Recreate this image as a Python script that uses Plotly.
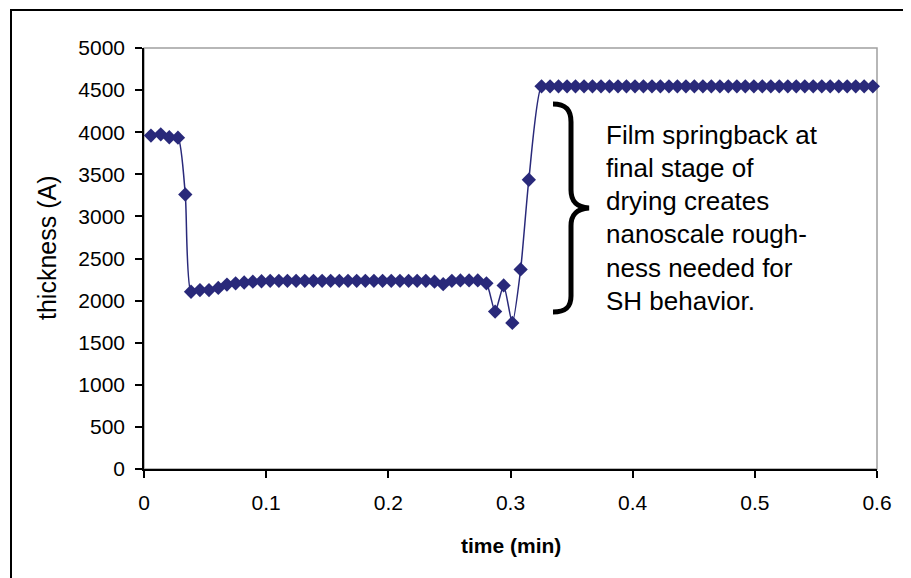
import plotly.graph_objects as go

time_min = [0.0057, 0.0137, 0.0207, 0.0278, 0.0338, 0.0385, 0.0458, 0.0532, 0.0608,
            0.0679, 0.0750, 0.0820, 0.0891, 0.0962, 0.1033, 0.1104, 0.1174, 0.1245, 0.1316,
            0.1387, 0.1458, 0.1528, 0.1599, 0.1670, 0.1741, 0.1812, 0.1882, 0.1953, 0.2024,
            0.2095, 0.2166, 0.2236, 0.2307, 0.2378, 0.2449, 0.2520, 0.2590, 0.2661, 0.2732,
            0.2803, 0.2874, 0.2944, 0.3015, 0.3083, 0.3150, 0.3254,
            0.3324, 0.3393, 0.3463, 0.3532, 0.3602, 0.3671, 0.3741, 0.3810, 0.3880, 0.3949,
            0.4019, 0.4088, 0.4158, 0.4227, 0.4297, 0.4366, 0.4436, 0.4505, 0.4575, 0.4644,
            0.4714, 0.4783, 0.4853, 0.4922, 0.4992, 0.5061, 0.5131, 0.5200, 0.5270, 0.5339,
            0.5409, 0.5478, 0.5548, 0.5617, 0.5687, 0.5756, 0.5826, 0.5895, 0.5966]

thickness = [3960, 3975, 3940, 3935, 3260, 2105, 2125, 2125, 2150,
             2190, 2205, 2215, 2225, 2230, 2235, 2235, 2235, 2235, 2235,
             2235, 2235, 2235, 2235, 2235, 2235, 2235, 2235, 2235, 2235,
             2235, 2235, 2235, 2235, 2225, 2195, 2235, 2240, 2240, 2240,
             2205, 1870, 2180, 1735, 2370, 3435, 4545,
             4545, 4545, 4545, 4545, 4545, 4545, 4545, 4545, 4545, 4545,
             4545, 4545, 4545, 4545, 4545, 4545, 4545, 4545, 4545, 4545,
             4545, 4545, 4545, 4545, 4545, 4545, 4545, 4545, 4545, 4545,
             4545, 4545, 4545, 4545, 4545, 4545, 4545, 4545, 4545]

x_ticks = [0, 0.1, 0.2, 0.3, 0.4, 0.5, 0.6]
x_tick_labels = ["0", "0.1", "0.2", "0.3", "0.4", "0.5", "0.6"]
y_ticks = [0, 500, 1000, 1500, 2000, 2500, 3000, 3500, 4000, 4500, 5000]

note_lines = ["Film springback at", "final stage of", "drying creates",
              "nanoscale rough-", "ness needed for", "SH behavior."]

OFF = 8  # page body margin
W, H = 911 - OFF, 578 - OFF
# plot area in page pixels: x 144..877, y 48..469
L, T = 144 - OFF, 48 - OFF
R = W - (877 - OFF)
B = H - (469 - OFF)
PW, PH = W - L - R, H - T - B


def px(x):
    return (x - OFF - L) / PW


def py(y):
    return (H - B - (y - OFF)) / PH


FONT = "Liberation Sans, Arial, sans-serif"
NAVY = "#29297a"

fig = go.Figure()
fig.add_trace(go.Scatter(
    x=time_min, y=thickness, mode="lines+markers",
    line=dict(color=NAVY, width=1.5, shape="spline", smoothing=0.6),
    marker=dict(symbol="diamond", size=11, color=NAVY),
    showlegend=False, cliponaxis=False,
))

shapes = []
shapes.append(dict(type="rect", xref="paper", yref="paper", x0=0, y0=0, x1=1, y1=1,
                   line=dict(color="#a0a0a0", width=1.5), layer="below"))
shapes.append(dict(type="rect", xref="paper", yref="paper",
                   x0=px(11), x1=px(908), y0=py(10), y1=py(590),
                   line=dict(color="black", width=2), layer="above"))

bp = [("M", 553, 104), ("C", 566, 104, 571, 110, 571, 122), ("L", 571, 190),
      ("C", 571, 201, 576, 207, 589, 208), ("C", 576, 209, 571, 215, 571, 226),
      ("L", 571, 296), ("C", 571, 307, 566, 312, 553, 312)]
path = ""
for seg in bp:
    cmd = seg[0]
    coords = seg[1:]
    parts = []
    for i in range(0, len(coords), 2):
        parts.append(f"{px(coords[i]):.5f},{py(coords[i+1]):.5f}")
    path += cmd + " " + " ".join(parts) + " "
shapes.append(dict(type="path", xref="paper", yref="paper", path=path.strip(),
                   line=dict(color="black", width=5), layer="above"))

annotations = []
line_y = [135, 168, 201, 234, 268, 301]
for txt, yy in zip(note_lines, line_y):
    annotations.append(dict(text=txt, xref="paper", yref="paper", x=px(604), y=py(yy),
                            xanchor="left", yanchor="middle", showarrow=False,
                            font=dict(family=FONT, size=26, color="black")))

annotations.append(dict(text="<b>time (min)</b>", xref="paper", yref="paper",
                        x=px(511), y=py(545), xanchor="center", yanchor="middle",
                        showarrow=False, font=dict(family=FONT, size=21, color="black")))
annotations.append(dict(text="thickness (A)", xref="paper", yref="paper",
                        x=px(47), y=py(248), xanchor="center", yanchor="middle", textangle=-90,
                        showarrow=False, font=dict(family=FONT, size=25, color="black")))

fig.update_layout(
    width=W, height=H,
    margin=dict(l=L, r=R, t=T, b=B, pad=0),
    paper_bgcolor="white", plot_bgcolor="white",
    font=dict(family=FONT, color="black"),
    shapes=shapes, annotations=annotations,
    xaxis=dict(range=[0, 0.6], tickvals=x_ticks, ticktext=x_tick_labels,
               showgrid=False, zeroline=False, showline=True, linecolor="black", linewidth=1.5,
               ticks="outside", ticklen=7, tickwidth=1.5, tickcolor="black",
               tickfont=dict(family=FONT, size=21), ticklabelstandoff=7),
    yaxis=dict(range=[0, 5000], tickvals=y_ticks,
               showgrid=False, zeroline=False, showline=True, linecolor="black", linewidth=1.5,
               ticks="outside", ticklen=7, tickwidth=1.5, tickcolor="black",
               tickfont=dict(family=FONT, size=21), ticklabelstandoff=6),
)

fig.write_html("out.html")
